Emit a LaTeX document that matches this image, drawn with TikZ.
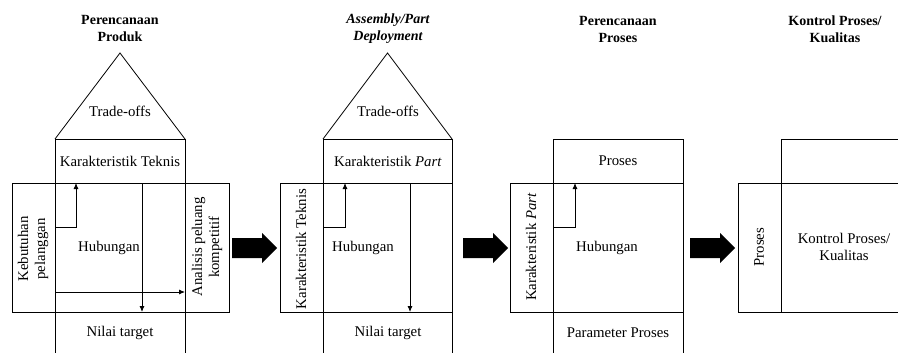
\documentclass[tikz,border=0pt]{standalone}
\usepackage{fontspec}
\setmainfont{Liberation Serif}
\usetikzlibrary{arrows.meta}

\tikzset{
  txt/.style={font=\fontsize{14.8}{17}\selectfont, align=center, inner sep=0pt},
  ttl/.style={txt, font=\fontsize{14}{17}\selectfont\bfseries},
  side/.style={txt, rotate=90},
  link/.style={line width=0.8pt, -{Latex[length=6pt,width=5pt]}},
}

\begin{document}
\begin{tikzpicture}[x=1pt, y=-1pt, line width=0.8pt]
\useasboundingbox (0,0) rectangle (898,353);
\clip (0,0) rectangle (898,353);

% House frames
\foreach \l/\a/\b/\r in {12/55/185/229, 280/323/452/452, 510/553/683/683} {
    \draw (\l,183) rectangle (\r,312);
    \draw (\a,353) -- (\a,139) -- (\b,139) -- (\b,353);
}

% Roofs
\foreach \a/\b in {55/185, 323/452} {
    \draw (\a,139) -- ({(\a+\b)/2},53) -- (\b,139);
}

% Last house, open to the right
\draw (900,183) -- (738,183) -- (738,312) -- (900,312);
\draw (781,312) -- (781,139) -- (900,139);

% Big arrows
\foreach \x in {232, 463, 690} {
    \fill (\x,238) -- ({\x+30},238) -- ({\x+30},233) -- ({\x+45},248)
        -- ({\x+30},263) -- ({\x+30},258) -- (\x,258) -- cycle;
}

% Inner arrows
\coordinate (p1a) at (55,227);  \coordinate (p1b) at (76,183);
\coordinate (p1c) at (55,292);  \coordinate (p1d) at (185,292);
\coordinate (p1e) at (142,183); \coordinate (p1f) at (142,312);
\coordinate (p2a) at (323,227); \coordinate (p2b) at (345,183);
\coordinate (p2e) at (410,183); \coordinate (p2f) at (410,312);
\coordinate (p3a) at (553,227); \coordinate (p3b) at (575,183);
\draw[link] (p1a) -| (p1b);
\draw[link] (p1c) -- (p1d);
\draw[link] (p1e) -- (p1f);
\draw[link] (p2a) -| (p2b);
\draw[link] (p2e) -- (p2f);
\draw[link] (p3a) -| (p3b);

% Titles
\node[ttl] (ttl1) at (120,29) {Perencanaan\\Produk};
\node[ttl, font=\fontsize{14}{17}\selectfont\bfseries\itshape] (ttl2) at (388,29) {Assembly/Part\\Deployment};
\node[ttl] (ttl3) at (618,29) {Perencanaan\\Proses};
\node[ttl] (ttl4) at (835,29) {Kontrol Proses/\\Kualitas};

% Roof and top bands
\node[txt] (roof1) at (120,111) {Trade-offs};
\node[txt] (roof2) at (388,111) {Trade-offs};
\node[txt] (top1) at (120,161) {Karakteristik Teknis};
\node[txt] (top2) at (388,161) {Karakteristik \textit{Part}};
\node[txt] (top3) at (618,161) {Proses};

% Middle
\node[txt] (mid1) at (109,248) {Hubungan};
\node[txt] (mid2) at (363,248) {Hubungan};
\node[txt] (mid3) at (607,248) {Hubungan};
\node[txt] (mid4) at (844,247) {Kontrol Proses/\\Kualitas};

% Side columns
\node[side] (left1) at (33,249) {Kebutuhan\\pelanggan};
\node[side] (right1) at (207,247) {Analisis peluang\\kompetitif};
\node[side] (left2) at (301,249) {Karakteristik Teknis};
\node[side] (left3) at (531,247) {Karakteristik \textit{Part}};
\node[side] (left4) at (759,247) {Proses};

% Bottom
\node[txt] (bot1) at (120,333) {Nilai target};
\node[txt] (bot2) at (388,333) {Nilai target};
\node[txt] (bot3) at (618,333) {Parameter Proses};
\end{tikzpicture}
\end{document}
